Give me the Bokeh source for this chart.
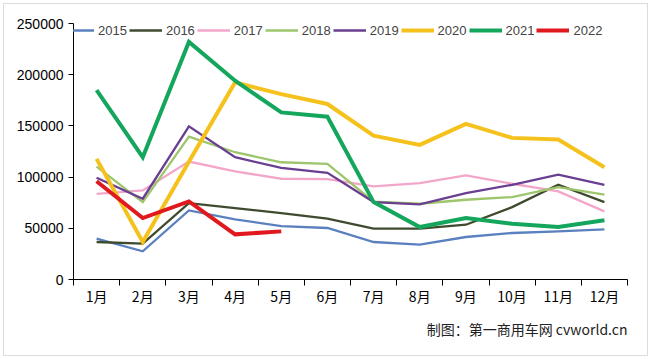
from bokeh.plotting import figure
from bokeh.models import (Legend, LegendItem, FixedTicker, Title, Range1d)
from bokeh.embed import file_html
from bokeh.resources import INLINE

months = ["1月", "2月", "3月", "4月", "5月", "6月", "7月", "8月", "9月", "10月", "11月", "12月"]
years = ["2015", "2016", "2017", "2018", "2019", "2020", "2021", "2022"]

s2015 = [40000, 27600, 67500, 58700, 52200, 50300, 36600, 34100, 41500, 45400, 47000, 49000]
s2016 = [36600, 35000, 74600, 69700, 64900, 59400, 49700, 49700, 53500, 70700, 92500, 75600]
s2017 = [83700, 87000, 115200, 105500, 98400, 98000, 90900, 94100, 101600, 93500, 86000, 66500]
s2018 = [110300, 75600, 139600, 124300, 114500, 113000, 76000, 74000, 77900, 80500, 90200, 82800]
s2019 = [99300, 78900, 149600, 119400, 109000, 104200, 75600, 73300, 84400, 92500, 102300, 92500]
s2020 = [117800, 36600, 115000, 192500, 181000, 171400, 140500, 131500, 151900, 138300, 136700, 109700]
s2021 = [185000, 119400, 232000, 194100, 163200, 159000, 75600, 51200, 60000, 54500, 51200, 57800]
s2022 = [96000, 60000, 76300, 44100, 47000]

series = [s2015, s2016, s2017, s2018, s2019, s2020, s2021, s2022]
colors = ["#5b80c0", "#3f4b2e", "#f2a7ca", "#9dc66c", "#6a3e90", "#f5c11c", "#14a65c", "#e0191f"]
widths = [2.3, 2.3, 2.3, 2.3, 2.3, 4, 4, 4]

p = figure(width=643, height=351, output_backend="svg", toolbar_location=None,
           x_range=Range1d(0, 12), y_range=Range1d(0, 250000),
           min_border_left=69, min_border_right=20, min_border_top=19, min_border_bottom=76)
p.margin = (4, 4, 4, 4)
p.styles = {"outline": "1px solid #dcdcdc"}
p.outline_line_color = None
p.xgrid.visible = False
p.ygrid.visible = False
p.background_fill_color = "white"

items = []
for yr, s, c, w in zip(years, series, colors, widths):
    xs = [i + 0.5 for i in range(len(s))]
    r = p.line(xs, s, line_color=c, line_width=w, line_join="miter")
    items.append(LegendItem(label=yr, renderers=[r]))

# axes
p.yaxis.ticker = FixedTicker(ticks=[0, 50000, 100000, 150000, 200000, 250000])
p.yaxis.formatter.use_scientific = False
p.yaxis.major_tick_in = 0
p.yaxis.major_tick_out = 5
p.yaxis.minor_tick_line_color = None
p.yaxis.axis_line_color = "black"
p.yaxis.major_tick_line_color = "black"
p.yaxis.major_label_text_font = "Liberation Sans"
p.yaxis.major_label_text_font_size = "14px"
p.yaxis.major_label_text_color = "black"
p.yaxis.major_label_standoff = 5

p.xaxis.ticker = FixedTicker(ticks=[i + 0.5 for i in range(12)], minor_ticks=list(range(13)))
p.xaxis.major_label_overrides = {i + 0.5: m for i, m in enumerate(months)}
p.xaxis.major_tick_in = 0
p.xaxis.major_tick_out = 0
p.xaxis.minor_tick_in = 0
p.xaxis.minor_tick_out = 6
p.xaxis.minor_tick_line_color = "black"
p.xaxis.axis_line_color = "black"
p.xaxis.major_label_text_font = "Noto Sans CJK SC"
p.xaxis.major_label_text_font_size = "14px"
p.xaxis.major_label_text_color = "black"
p.xaxis.major_label_standoff = 0

legend = Legend(items=items, orientation="horizontal", location=(-12, 241),
                background_fill_alpha=0, border_line_color=None,
                padding=0, margin=0, spacing=2, glyph_width=33, glyph_height=16,
                label_height=16, label_standoff=4,
                label_text_font="Liberation Sans", label_text_font_size="13px")
p.add_layout(legend, "center")

cap = Title(text="制图：第一商用车网 cvworld.cn", align="right",
            text_font="Noto Sans CJK SC", text_font_size="14px", text_font_style="normal",
            text_color="#222222", standoff=16)
p.add_layout(cap, "below")

open("out.html", "w").write(file_html(p, INLINE))
